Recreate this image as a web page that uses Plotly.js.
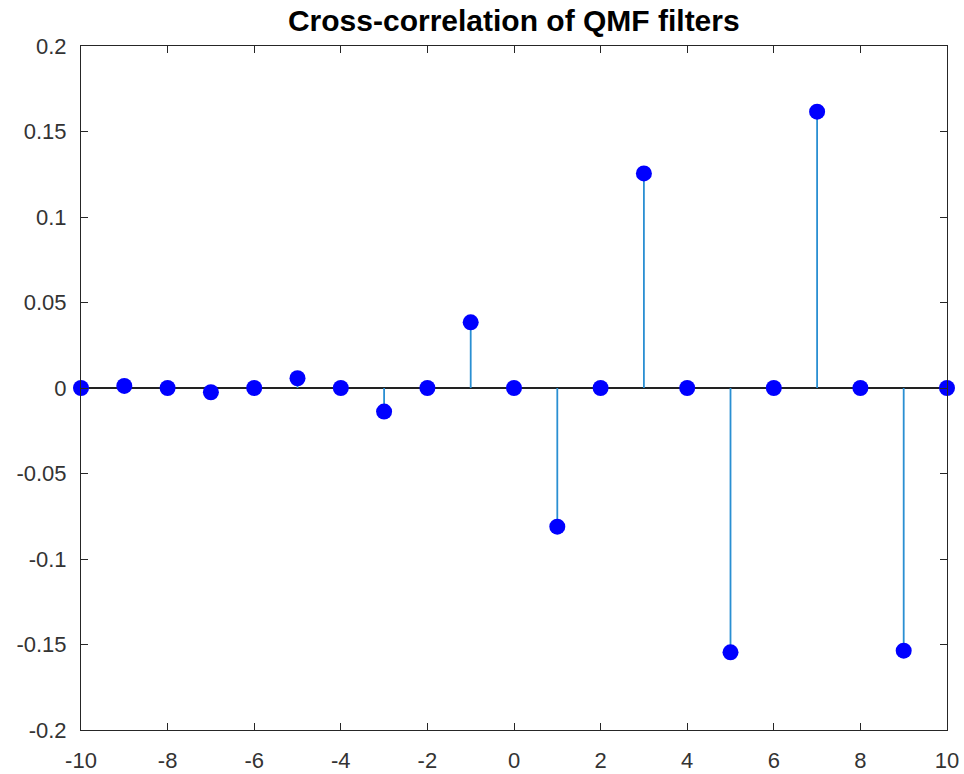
<!DOCTYPE html>
<html>
<head>
<meta charset="utf-8">
<script src="https://cdn.plot.ly/plotly-3.0.1.min.js"></script>
<style>html,body{margin:0;padding:0;background:#fff;}</style>
</head>
<body>
<div id="chart" style="width:964px;height:774px;"></div>
<script>
const lags = [-10,-9,-8,-7,-6,-5,-4,-3,-2,-1,0,1,2,3,4,5,6,7,8,9,10];
const xcorrValues = [0,0.0012,0,-0.0025,0,0.0057,0,-0.0138,0,0.0384,0,-0.0811,0,0.1255,0,-0.1546,0,0.1616,0,-0.1536,0];
const xTickVals = [-10,-8,-6,-4,-2,0,2,4,6,8,10];
const xTickText = ['-10','-8','-6','-4','-2','0','2','4','6','8','10'];
const yTickVals = [-0.2,-0.15,-0.1,-0.05,0,0.05,0.1,0.15,0.2];
const yTickText = ['-0.2','-0.15','-0.1','-0.05','0','0.05','0.1','0.15','0.2'];
const titleText = 'Cross-correlation of QMF filters';

const stemX = [], stemY = [];
lags.forEach((x, i) => { stemX.push(x, x, null); stemY.push(0, xcorrValues[i], null); });

const font = "Liberation Sans, Arial, Helvetica, sans-serif";
const axisColor = '#262626';

const traces = [
  {x: stemX, y: stemY, mode: 'lines', type: 'scatter', line: {color: '#2a8fd2', width: 1.8}, hoverinfo: 'skip', cliponaxis: false},
  {x: lags, y: xcorrValues, mode: 'markers', type: 'scatter', marker: {color: '#0000ff', size: 16, line: {width: 0}}, cliponaxis: false}
];

const layout = {
  width: 964, height: 774,
  margin: {l: 81, r: 17, t: 46, b: 44},
  paper_bgcolor: '#fff', plot_bgcolor: '#fff',
  showlegend: false,
  title: {text: '<b>' + titleText + '</b>', x: 0.533, xanchor: 'center', y: 0.973, yanchor: 'middle', font: {family: font, size: 30, color: '#000'}},
  xaxis: {
    range: [-10, 10], tickvals: xTickVals, ticktext: xTickText,
    ticks: 'inside', ticklen: 7, tickwidth: 1, tickcolor: axisColor,
    showline: true, linecolor: axisColor, linewidth: 1, mirror: 'ticks',
    showgrid: false, zeroline: false, ticklabelstandoff: 11,
    tickfont: {family: font, size: 22, color: '#333333'}
  },
  yaxis: {
    range: [-0.2, 0.2], tickvals: yTickVals, ticktext: yTickText,
    ticks: 'inside', ticklen: 7, tickwidth: 1, tickcolor: axisColor,
    showline: true, linecolor: axisColor, linewidth: 1, mirror: 'ticks',
    showgrid: false, zeroline: true, zerolinecolor: '#222', zerolinewidth: 1.2,
    ticklabelstandoff: 9,
    tickfont: {family: font, size: 22, color: '#333333'}
  }
};

Plotly.newPlot('chart', traces, layout, {staticPlot: true, displayModeBar: false});
</script>
</body>
</html>
